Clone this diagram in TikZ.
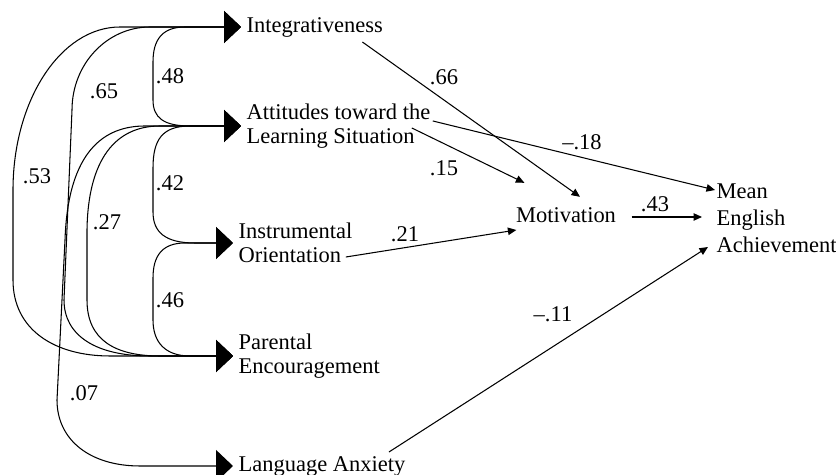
\documentclass[tikz,border=0pt]{standalone}
\usepackage{fontspec}
\setmainfont{Liberation Serif}
\usetikzlibrary{arrows.meta,calc}
\tikzset{
  factor/.style={anchor=west, inner xsep=3pt, inner ysep=2pt, align=left, font=\fontsize{12.8}{14}\selectfont},
  outcome/.style={inner sep=3pt, align=left, font=\fontsize{12.8}{15.3}\selectfont},
  coef/.style={inner sep=1pt, font=\fontsize{12.8}{14}\selectfont},
  corr/.style={{Triangle[length=3.4mm, width=6.4mm]}-{Triangle[length=3.4mm, width=6.4mm]}, semithick},
  arrow/.style={-{Triangle[length=1.7mm, width=1.5mm]}, semithick}
}
\begin{document}
\begin{tikzpicture}[x=0.02cm, y=-0.02cm]
  \useasboundingbox (0,0) rectangle (836,475);
  \node[factor] (int) at (241,27) {Integrativeness};
  \node[factor] (att) at (241,126) {Attitudes toward the\\Learning Situation};
  \node[factor] (ins) at (233,243) {Instrumental\\Orientation};
  \node[factor] (par) at (233,356) {Parental\\Encouragement};
  \node[factor] (anx) at (233,466) {Language Anxiety};
  \node[outcome] (mot) at (566,215) {Motivation};
  \node[outcome, anchor=west] (ach) at (711,218) {Mean\\English\\Achievement};

  \draw[corr] (int.west) -- (185,27) .. controls (162,27) and (153,40) .. (153,62) -- (153,100) .. controls (153,118) and (164,126) .. (190,126) -- (att.west);
  \draw[corr] (int.west) -- (150,27) .. controls (107,27) and (72,64) .. (72,110) -- (64,300) .. controls (64,335) and (95,356) .. (150,356) -- (par.west);
  \draw[corr] (int.west) -- (120,27) .. controls (61,27) and (13,100) .. (13,190) -- (13,280) .. controls (13,330) and (55,356) .. (110,356) -- (par.west);
  \draw[corr] (att.west) -- (190,126) .. controls (162,126) and (153,140) .. (153,168) -- (153,212) .. controls (153,232) and (165,243) .. (195,243) -- (ins.west);
  \draw[corr] (att.west) -- (160,126) .. controls (115,126) and (88,160) .. (87,230) -- (87,300) .. controls (87,340) and (115,356) .. (160,356) -- (par.west);
  \draw[corr] (att.west) -- (145,126) .. controls (105,126) and (68,150) .. (65,240) -- (57,400) .. controls (57,440) and (90,466) .. (140,466) -- (anx.west);
  \draw[corr] (ins.west) -- (185,243) .. controls (162,243) and (153,256) .. (153,278) -- (153,320) .. controls (153,342) and (165,356) .. (190,356) -- (par.west);

  \node[coef] (r48) at (170,76) {.48};
  \node[coef] (r65) at (104,91) {.65};
  \node[coef] (r53) at (37,176) {.53};
  \node[coef] (r42) at (170,183) {.42};
  \node[coef] (r27) at (107,222) {.27};
  \node[coef] (r46) at (170,300) {.46};
  \node[coef] (r07) at (84,393) {.07};

  \draw[arrow] ($(int.east)+(-26,15)$) -- ($(mot.north)+(14,-5)$);
  \draw[arrow] ($(att.east)+(-3,-5)$) -- ($(ach.west)+(4,-28)$);
  \draw[arrow] ($(att.east)+(-24,2)$) -- ($(mot.north west)+(14,-19)$);
  \draw[arrow] ($(ins.east)+(-12,14)$) -- ($(mot.west)+(6,15)$);
  \draw[arrow] ($(mot.east)+(10,2)$) -- ($(ach.west)+(-9,-1)$);
  \draw[arrow] ($(anx.east)+(-22,-14)$) -- ($(ach.west)+(-3,29)$);

  \node[coef] (b66) at (444,77) {.66};
  \node[coef] (b18) at (582,142) {--.18};
  \node[coef] (b15) at (444,168) {.15};
  \node[coef] (b21) at (405,234) {.21};
  \node[coef] (b43) at (655,204) {.43};
  \node[coef] (b11) at (553,314) {--.11};
\end{tikzpicture}
\end{document}
